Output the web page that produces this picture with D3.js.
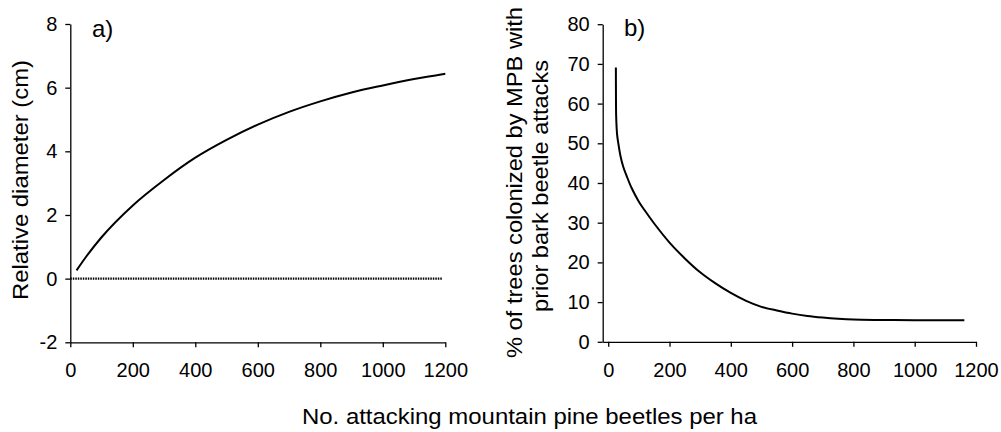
<!DOCTYPE html>
<html>
  <head>
    <meta charset="utf-8">
    <title>Beetle attack density</title>
    <script src="https://d3js.org/d3.v7.min.js"></script>
    <style>
      body { margin: 0; background: #fff; }
      svg { font-family: "Liberation Sans", Arial, sans-serif; }
      .axis path, .axis line { stroke: #000; stroke-width: 1.3px; }
      .axis text { font-size: 20px; fill: #000; }
      .title { font-size: 22px; fill: #000; }
      .panel { font-size: 24px; fill: #000; }
      .curve { fill: none; stroke: #000; stroke-width: 2px; }
    </style>
  </head>
  <body>
    <svg id="chart" width="1001" height="432"></svg>
    <script>
      // panel a: relative diameter vs attack density
      var beetlesA = [20, 50, 100, 200, 300, 400, 500, 600, 700, 800, 900, 1000, 1100, 1200];
      var diameterA = [0.26, 0.68, 1.3, 2.3, 3.1, 3.8, 4.36, 4.84, 5.24, 5.57, 5.85, 6.07, 6.27, 6.44];
      var zeroX = [0, 1190];
      var zeroY = [0, 0];
      // panel b: % trees with prior bark beetle attacks
      var beetlesB = [25, 25.3, 26, 29, 33, 40, 49, 60, 76, 100, 120, 150, 200, 250, 300, 350, 400, 450, 500, 550, 600, 650, 700, 750, 800, 900, 1000, 1162];
      var percentB = [69.1, 62, 56.7, 52.2, 50, 46.8, 44.1, 41.8, 38.8, 35.3, 33.0, 29.8, 25.0, 21.0, 17.5, 14.7, 12.3, 10.3, 8.8, 7.9, 7.1, 6.5, 6.1, 5.8, 5.6, 5.5, 5.42, 5.4];
      // ticks
      var xTicks = [0, 200, 400, 600, 800, 1000, 1200];
      var yTicksA = [-2, 0, 2, 4, 6, 8];
      var yTicksB = [0, 10, 20, 30, 40, 50, 60, 70, 80];

      chart = d3.select("#chart");

      // scales
      xA = d3.scaleLinear().domain([0, 1200]).range([70.3, 445.3]);
      yA = d3.scaleLinear().domain([-2, 8]).range([342.3, 24]);
      xB = d3.scaleLinear().domain([-18, 1200]).range([602.7, 976]);
      yB = d3.scaleLinear().domain([0, 80]).range([341.8, 24.2]);

      function drawAxes(x, y, yTicks) {
        chart.append("g")
          .attr("class", "axis")
          .attr("transform", "translate(0," + y.range()[0] + ")")
          .call(d3.axisBottom(x)
            .tickValues(xTicks)
            .tickSize(5)
            .tickSizeOuter(0)
            .tickPadding(16)
            .tickFormat(d3.format("d")));
        chart.append("g")
          .attr("class", "axis")
          .attr("transform", "translate(" + x.range()[0] + ",0)")
          .call(d3.axisLeft(y)
            .tickValues(yTicks)
            .tickSize(5)
            .tickSizeOuter(0)
            .tickPadding(8)
            .tickFormat(function(d) { return d < 0 ? "-" + Math.abs(d) : d; }));
      }
      drawAxes(xA, yA, yTicksA);
      drawAxes(xB, yB, yTicksB);

      // panel a lines
      lineA = d3.line()
        .x(function(d) { return xA(d[0]); })
        .y(function(d) { return yA(d[1]); })
        .curve(d3.curveMonotoneX);
      chart.append("path")
        .attr("class", "curve")
        .attr("d", lineA(d3.zip(zeroX, zeroY)))
        .style("stroke-width", "2.2px")
        .style("stroke-dasharray", "1.5,1");
      chart.append("path")
        .attr("class", "curve")
        .attr("d", lineA(d3.zip(beetlesA, diameterA)));

      // panel b line
      lineB = d3.line()
        .x(function(d) { return xB(d[0]); })
        .y(function(d) { return yB(d[1]); })
        .curve(d3.curveCatmullRom.alpha(0.5));
      chart.append("path")
        .attr("class", "curve")
        .attr("d", lineB(d3.zip(beetlesB, percentB)));

      // panel labels
      chart.append("text").attr("class", "panel").attr("x", 92).attr("y", 37).text("a)");
      chart.append("text").attr("class", "panel").attr("x", 624).attr("y", 36).text("b)");

      // axis titles
      chart.append("text")
        .attr("class", "title")
        .attr("text-anchor", "middle")
        .attr("transform", "translate(28,180) rotate(-90)")
        .attr("textLength", 240)
        .attr("lengthAdjust", "spacingAndGlyphs")
        .text("Relative diameter (cm)");
      chart.append("text")
        .attr("class", "title")
        .attr("text-anchor", "middle")
        .attr("transform", "translate(521.5,182.5) rotate(-90)")
        .attr("textLength", 351)
        .attr("lengthAdjust", "spacingAndGlyphs")
        .text("% of trees colonized by MPB with");
      chart.append("text")
        .attr("class", "title")
        .attr("text-anchor", "middle")
        .attr("transform", "translate(548,186) rotate(-90)")
        .attr("textLength", 252)
        .attr("lengthAdjust", "spacingAndGlyphs")
        .text("prior bark beetle attacks");
      chart.append("text")
        .attr("class", "title")
        .attr("text-anchor", "middle")
        .attr("x", 529.5)
        .attr("y", 424)
        .attr("textLength", 455)
        .attr("lengthAdjust", "spacingAndGlyphs")
        .text("No. attacking mountain pine beetles per ha");
    </script>
  </body>
</html>
